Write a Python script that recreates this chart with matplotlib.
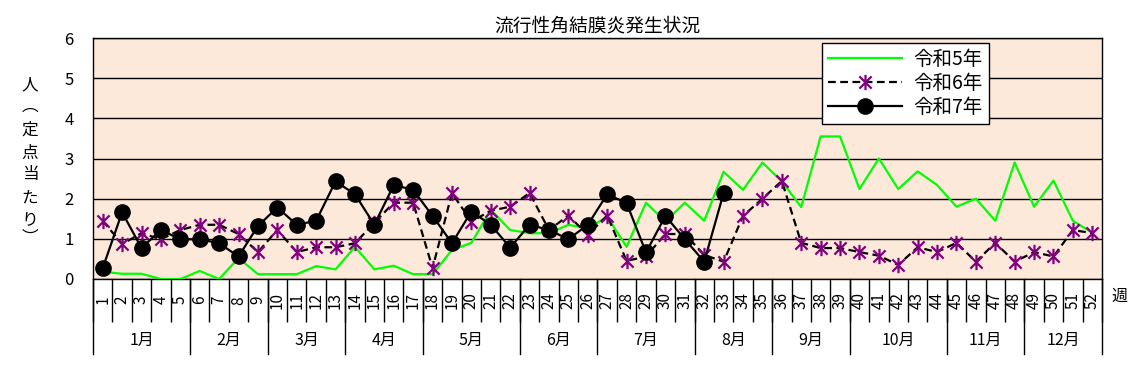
#!/usr/bin/env python3
# -*- coding: utf-8 -*-

import numpy as np
import matplotlib
matplotlib.use('Agg')
import matplotlib.pyplot as plt
from matplotlib.path import Path

plt.rcParams['font.family'] = ['Noto Sans CJK JP', 'DejaVu Sans']

title = '流行性角結膜炎発生状況'
ylabel_chars = ['人', '︵', '定', '点', '当', 'た', 'り', '︶']
series_names = ['令和5年', '令和6年', '令和7年']
weeks = list(range(1, 53))
months = ['1月', '2月', '3月', '4月', '5月', '6月',
          '7月', '8月', '9月', '10月', '11月', '12月']
weeks_per_month = [5, 4, 4, 4, 5, 4, 5, 4, 4, 5, 4, 4]

r5 = [0.18, 0.13, 0.13, 0.0, 0.0, 0.2, 0.0, 0.52, 0.12, 0.12,
      0.12, 0.32, 0.24, 0.8, 0.24, 0.33, 0.12, 0.12, 0.72, 0.9,
      1.72, 1.22, 1.14, 1.14, 1.35, 1.26, 1.55, 0.8, 1.9, 1.43,
      1.9, 1.45, 2.67, 2.22, 2.9, 2.43, 1.79, 3.55, 3.55, 2.24,
      3.0, 2.24, 2.68, 2.34, 1.8, 2.0, 1.45, 2.9, 1.8, 2.45,
      1.45, 1.15]
r6 = [1.45, 0.87, 1.14, 0.99, 1.22, 1.35, 1.35, 1.12, 0.67, 1.22,
      0.67, 0.79, 0.79, 0.89, 1.4, 1.9, 1.9, 0.27, 2.14, 1.43,
      1.7, 1.8, 2.14, 1.22, 1.58, 1.1, 1.58, 0.45, 0.56, 1.12,
      1.12, 0.6, 0.43, 1.57, 2.0, 2.44, 0.9, 0.77, 0.77, 0.67,
      0.58, 0.35, 0.79, 0.67, 0.9, 0.43, 0.9, 0.43, 0.67, 0.56,
      1.22, 1.14]
r7 = [0.27, 1.66, 0.77, 1.22, 0.99, 0.99, 0.89, 0.56, 1.32, 1.78,
      1.35, 1.45, 2.43, 2.11, 1.35, 2.34, 2.22, 1.57, 0.89, 1.68,
      1.35, 0.78, 1.35, 1.22, 0.99, 1.35, 2.11, 1.89, 0.66, 1.57,
      0.99, 0.43, 2.14]

# excel style asterisk: an x with a vertical bar
star = Path([(-1, -1), (1, 1), (-1, 1), (1, -1), (0, -1.25), (0, 1.25)],
            [Path.MOVETO, Path.LINETO, Path.MOVETO, Path.LINETO,
             Path.MOVETO, Path.LINETO])

fig = plt.figure(figsize=(11.37, 3.92), dpi=100)
ax = fig.add_axes([0.0818, 0.2883, 0.9692 - 0.0818, 0.903 - 0.2883])
ax.set_facecolor('#FDE9D9')

ax.plot(weeks, r5, color='#00FF00', lw=1.6, label=series_names[0], zorder=3)
ax.plot(weeks, r6, color='black', lw=1.6, ls=(0, (3.5, 2)), marker=star,
        ms=11, mec='#800080', mew=1.6, label=series_names[1], zorder=4)
ax.plot(weeks[:len(r7)], r7, color='black', lw=1.6, marker='o', ms=11,
        mfc='black', mec='black', label=series_names[2], zorder=5)

ax.set_xlim(0.5, 52.5)
ax.set_ylim(0, 6)
ax.set_yticks(range(0, 7))
ax.yaxis.grid(True, color='black', lw=1)
ax.set_axisbelow(True)
ax.tick_params(axis='y', length=0, pad=14, labelsize=12)

# week separators as ticks
ax.set_xticks(np.arange(0.5, 53, 1))
ax.set_xticklabels([])
ax.tick_params(axis='x', which='major', length=31, width=1, direction='out')

for s in ax.spines.values():
    s.set_color('black')
    s.set_linewidth(1)

tr = ax.get_xaxis_transform()
for w in weeks:
    ax.text(w, -0.088, str(w), transform=tr, ha='center', va='center',
            rotation=90, fontsize=11)

# month rows
bounds = np.concatenate([[0], np.cumsum(weeks_per_month)]) + 0.5
for b in bounds:
    ax.plot([b, b], [0, -0.311], color='black', lw=1, transform=tr,
            clip_on=False)
for m, a, b in zip(months, bounds[:-1], bounds[1:]):
    ax.text((a + b) / 2, -0.255, m, transform=tr, ha='center', va='center',
            fontsize=11.5)
ax.text(53.4, -0.07, '週', transform=tr, ha='center', va='center',
        fontsize=11.5)

ax.set_title(title, fontsize=13.5, pad=5)

ylab_y = [85, 106, 130, 153, 175, 198, 220, 238]
for ch, yy in zip(ylabel_chars, ylab_y):
    fig.text(30 / 1137, 1 - yy / 392, ch, ha='center', va='center',
             fontsize=12)

leg = ax.legend(loc='upper left', bbox_to_anchor=(0.7225, 0.978),
                fontsize=14, handlelength=3.8, frameon=True, fancybox=False,
                edgecolor='black', framealpha=1, borderpad=0.3,
                labelspacing=0.15, handletextpad=0.6, borderaxespad=0)
leg.get_frame().set_linewidth(1)

fig.savefig('out.png', dpi=100)
